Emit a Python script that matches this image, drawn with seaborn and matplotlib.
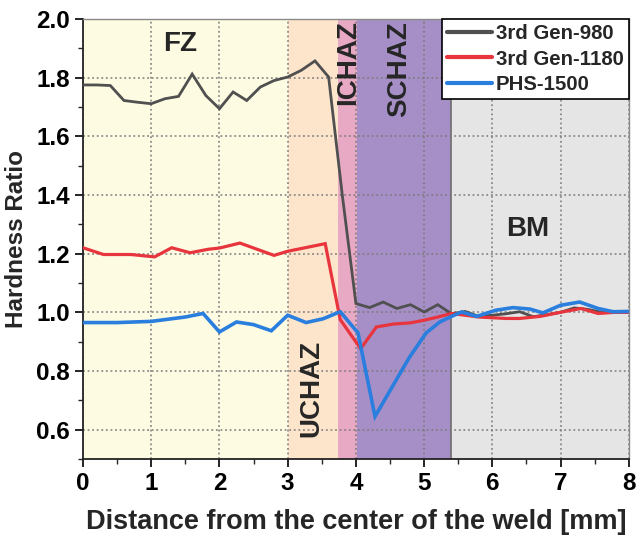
import numpy as np
import pandas as pd
import matplotlib
matplotlib.use("Agg")
import matplotlib.pyplot as plt
import seaborn as sns
from matplotlib.ticker import MultipleLocator

# Hardness ratio profiles across the weld
x_980 = [0.0, 0.2, 0.4, 0.6, 0.8, 1.0, 1.2, 1.4, 1.6, 1.8, 2.0, 2.2, 2.4, 2.6, 2.8,
         3.0, 3.2, 3.4, 3.6, 3.8, 4.0, 4.2, 4.4, 4.6, 4.8, 5.0, 5.2, 5.4, 5.6, 5.8,
         6.0, 6.2, 6.4, 6.6, 6.8, 7.0, 7.2, 7.4, 7.6, 7.8, 8.0]
y_980 = [1.775, 1.775, 1.773, 1.722, 1.716, 1.711, 1.728, 1.736, 1.812, 1.739, 1.694,
         1.751, 1.722, 1.768, 1.790, 1.802, 1.825, 1.857, 1.802, 1.400, 1.030, 1.016,
         1.035, 1.013, 1.026, 1.001, 1.026, 0.995, 1.003, 0.986, 0.990, 0.995, 1.002,
         0.985, 0.992, 1.000, 1.015, 1.010, 1.000, 1.000, 1.000]

x_1180 = [0.0, 0.3, 0.7, 1.05, 1.3, 1.57, 1.84, 2.0, 2.3, 2.8, 3.0, 3.55, 3.77, 4.07,
          4.3, 4.55, 4.8, 5.0, 5.2, 5.4, 5.6, 5.8, 6.2, 6.4, 6.7, 7.0, 7.3, 7.55, 7.8, 8.0]
y_1180 = [1.220, 1.197, 1.197, 1.189, 1.220, 1.203, 1.215, 1.219, 1.236, 1.194, 1.208,
          1.234, 0.975, 0.876, 0.950, 0.960, 0.964, 0.973, 0.984, 0.996, 0.990, 0.984,
          0.979, 0.979, 0.986, 1.000, 1.013, 0.996, 1.000, 1.000]

x_1500 = [0.0, 0.5, 1.0, 1.5, 1.76, 2.0, 2.25, 2.5, 2.76, 3.0, 3.27, 3.52, 3.77, 4.03,
          4.28, 4.53, 4.78, 5.03, 5.23, 5.4, 5.55, 5.77, 6.05, 6.3, 6.55, 6.74, 7.0,
          7.28, 7.55, 7.77, 8.0]
y_1500 = [0.965, 0.965, 0.969, 0.984, 0.996, 0.933, 0.967, 0.958, 0.937, 0.990, 0.965,
          0.978, 1.002, 0.930, 0.645, 0.745, 0.845, 0.930, 0.967, 0.986, 1.001, 0.986,
          1.007, 1.016, 1.011, 0.998, 1.024, 1.035, 1.013, 1.002, 1.003]

series_names = ["3rd Gen-980", "3rd Gen-1180", "PHS-1500"]

# Weld zones and their boundaries along the distance axis
zone_names = ["FZ", "UCHAZ", "ICHAZ", "SCHAZ", "BM"]
zone_edges = [0.0, 3.0, 3.74, 4.02, 5.4, 8.0]

x_ticks = [0, 1, 2, 3, 4, 5, 6, 7, 8]
y_ticks = [0.6, 0.8, 1.0, 1.2, 1.4, 1.6, 1.8, 2.0]

df = pd.concat([
    pd.DataFrame({"Distance": x_980, "Ratio": y_980, "Steel": series_names[0]}),
    pd.DataFrame({"Distance": x_1180, "Ratio": y_1180, "Steel": series_names[1]}),
    pd.DataFrame({"Distance": x_1500, "Ratio": y_1500, "Steel": series_names[2]}),
], ignore_index=True)

sns.set_theme(style="ticks")
plt.rcParams["font.family"] = ["Liberation Sans", "DejaVu Sans"]
plt.rcParams["font.weight"] = "bold"

fig = plt.figure(figsize=(6.41, 5.41), dpi=100)
ax = fig.add_axes([0.1295, 0.1516, 0.8515, 0.8134])

zone_colors = ["#fdfbe2", "#fde5cc", "#e8a9c4", "#a68fc7", "#e5e5e5"]
for i, c in enumerate(zone_colors):
    ax.axvspan(zone_edges[i], zone_edges[i + 1], color=c, lw=0, zorder=0)
ax.axvline(zone_edges[4], color="#6e6e6e", lw=1.2, zorder=1)

palette = {series_names[0]: "#505050", series_names[1]: "#e8343c", series_names[2]: "#2a7ede"}
sns.lineplot(data=df, x="Distance", y="Ratio", hue="Steel", palette=palette,
             estimator=None, sort=True, ax=ax, zorder=3, legend=False)
lines = ax.get_lines()[-3:]
for ln, lw in zip(lines, [2.0, 2.3, 2.6]):
    ln.set_linewidth(lw)
    ln.set_solid_joinstyle("miter")

ax.set_xlim(0, 8)
ax.set_ylim(0.5, 2.0)
ax.set_xticks(x_ticks)
ax.set_yticks(y_ticks)
ax.xaxis.set_minor_locator(MultipleLocator(0.5))
ax.yaxis.set_minor_locator(MultipleLocator(0.1))
ax.tick_params(axis="both", which="major", direction="out", length=6, width=1.2,
               labelsize=17.5, colors="black")
ax.tick_params(axis="both", which="minor", direction="out", length=3.5, width=1.0)
for lab in ax.get_xticklabels() + ax.get_yticklabels():
    lab.set_fontweight("bold")

# Dotted major grid drawn over the zone shading, under the curves
ax.set_axisbelow(False)
ax.grid(True, which="major", linestyle=(0, (1.2, 1.8)), color="#7a7a7a", lw=1.1)
for axis in (ax.xaxis, ax.yaxis):
    axis.set_zorder(2)

for side in ["left", "bottom"]:
    ax.spines[side].set_color("#222222")
    ax.spines[side].set_linewidth(1.3)
for side in ["top", "right"]:
    ax.spines[side].set_color("#8a8a8a")
    ax.spines[side].set_linewidth(1.0)

ax.set_xlabel("Distance from the center of the weld [mm]", fontsize=19.5,
              fontweight="bold", labelpad=10)
ax.set_ylabel("Hardness Ratio", fontsize=17.5, fontweight="bold", labelpad=6)

# Zone annotations
ax.text(1.42, 1.915, zone_names[0], fontsize=20, fontweight="bold", ha="center", va="center", zorder=4)
ax.text(3.35, 0.74, zone_names[1], fontsize=20, fontweight="bold", ha="center", va="center",
        rotation=90, zorder=4)
ax.text(3.89, 1.85, zone_names[2], fontsize=20, fontweight="bold", ha="center", va="center",
        rotation=90, zorder=4)
ax.text(4.64, 1.83, zone_names[3], fontsize=20, fontweight="bold", ha="center", va="center",
        rotation=90, zorder=4)
ax.text(6.52, 1.285, zone_names[4], fontsize=20, fontweight="bold", ha="center", va="center", zorder=4)

leg = ax.legend(lines, series_names, loc="upper right", bbox_to_anchor=(1.0, 1.0),
                fontsize=14.7, frameon=True, fancybox=False, framealpha=1,
                edgecolor="black", borderpad=0.25, labelspacing=0.32,
                handlelength=2.2, handletextpad=0.2, borderaxespad=0.0)
leg.get_frame().set_linewidth(1.2)
for t in leg.get_texts():
    t.set_fontweight("bold")
for h in leg.get_lines():
    h.set_linewidth(3.0)
leg.set_zorder(5)

fig.savefig("out.png", dpi=100)
